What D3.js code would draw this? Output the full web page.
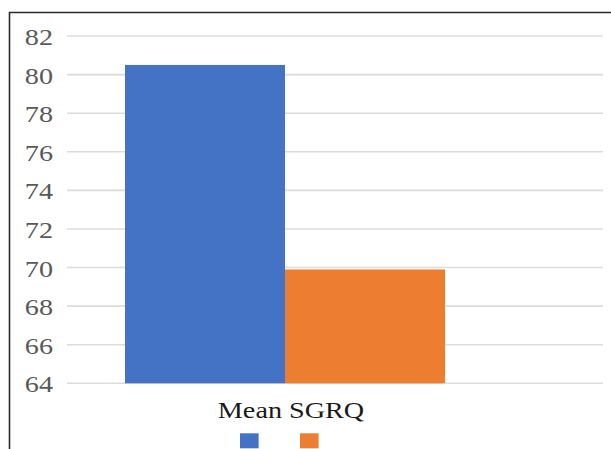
<!DOCTYPE html>
<html>
<head>
<meta charset="utf-8">
<script src="https://cdn.jsdelivr.net/npm/d3@7"></script>
<style>
  html, body { margin: 0; padding: 0; background: #fff; }
  svg { display: block; }
</style>
</head>
<body>
<svg id="chart" width="611" height="449"></svg>
<script>
// Chart data
const categories = ["Mean SGRQ"];
const seriesKeys = ["group1", "group2"];
const seriesValues = [[80.5], [69.9]];   // one value per category, per series
const seriesColors = ["#4472C4", "#ED7D31"];
const yTicks = [64, 66, 68, 70, 72, 74, 76, 78, 80, 82];

const svg = d3.select("#chart");
const W = 611, H = 449;
const serifFont = '"Liberation Serif", "Times New Roman", serif';
const stretch = 1.2; // horizontal text stretch of this figure

// Outer frame (left and top edges visible)
svg.append("path")
  .attr("d", `M9.5,${H} L9.5,12.5 L${W},12.5`)
  .attr("fill", "none")
  .attr("stroke", "#2b2b2b")
  .attr("stroke-width", 1.6);

const plot = { left: 67, right: 603, top: 36, bottom: 383.3 };

const y = d3.scaleLinear()
  .domain([d3.min(yTicks), d3.max(yTicks)])
  .range([plot.bottom, plot.top]);

// Category band and series sub-band
const x0 = d3.scaleBand()
  .domain(categories)
  .range([125, 445])
  .padding(0);

const x1 = d3.scaleBand()
  .domain(seriesKeys)
  .range([0, x0.bandwidth()])
  .padding(0);

// Gridlines
svg.append("g")
  .selectAll("line")
  .data(yTicks)
  .join("line")
  .attr("x1", plot.left)
  .attr("x2", plot.right)
  .attr("y1", d => y(d))
  .attr("y2", d => y(d))
  .attr("stroke", "#dcdcdc")
  .attr("stroke-width", 1.6);

// Y axis labels
const yAxis = d3.axisLeft(y).tickValues(yTicks).tickSize(0).tickPadding(0);
const yg = svg.append("g")
  .attr("transform", "translate(53,0)")
  .call(yAxis);
yg.select(".domain").remove();
yg.selectAll(".tick text")
  .style("font-family", serifFont)
  .style("font-size", "23.5px")
  .attr("fill", "#595959")
  .attr("x", 0)
  .attr("dy", "0.36em")
  .attr("text-anchor", "end")
  .attr("transform", `scale(${stretch},1)`);

// Bars
const rows = categories.map((c, i) => ({
  category: c,
  values: seriesKeys.map((k, s) => ({ key: k, value: seriesValues[s][i], color: seriesColors[s] }))
}));

svg.append("g")
  .selectAll("g")
  .data(rows)
  .join("g")
  .attr("transform", d => `translate(${x0(d.category)},0)`)
  .selectAll("rect")
  .data(d => d.values)
  .join("rect")
  .attr("x", d => x1(d.key))
  .attr("width", x1.bandwidth())
  .attr("y", d => y(d.value))
  .attr("height", d => y(d3.min(yTicks)) - y(d.value))
  .attr("fill", d => d.color);

// Category label
const catCx = 291;
svg.append("g")
  .selectAll("text")
  .data(categories)
  .join("text")
  .attr("transform", `translate(${catCx},417.5) scale(${stretch},1)`)
  .attr("text-anchor", "middle")
  .style("font-family", serifFont)
  .style("font-size", "23.5px")
  .attr("fill", "#1a1a1a")
  .text(d => d);

// Legend swatches (series carry no visible names)
const legend = d3.scaleBand()
  .domain(seriesKeys)
  .range([240, 318.6])
  .paddingInner(0.69)
  .paddingOuter(0);

svg.append("g")
  .selectAll("rect")
  .data(seriesKeys)
  .join("rect")
  .attr("x", d => legend(d))
  .attr("y", 433.3)
  .attr("width", legend.bandwidth())
  .attr("height", 15)
  .attr("fill", (d, i) => seriesColors[i]);
</script>
</body>
</html>
